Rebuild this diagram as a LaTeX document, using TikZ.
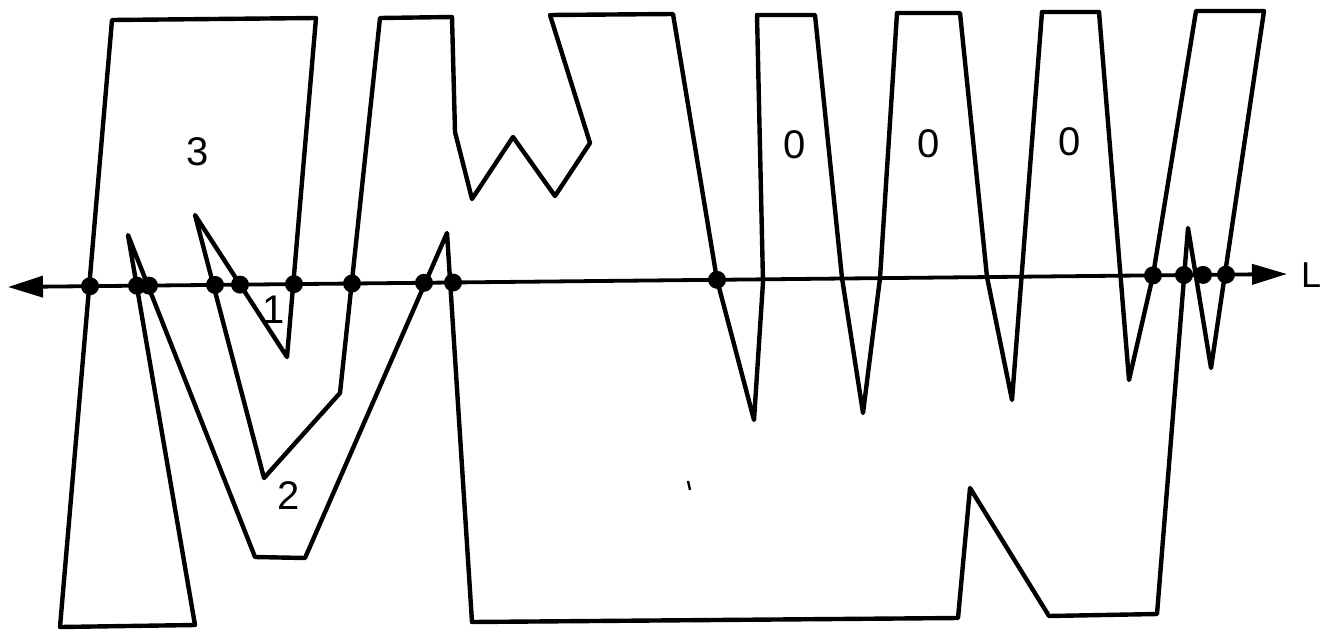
\documentclass[tikz,border=0pt]{standalone}
\usepackage{fontspec}
\setmainfont{Liberation Sans}
\usetikzlibrary{arrows.meta}
\begin{document}
\begin{tikzpicture}[x=1pt,y=-1pt,
  curve/.style={draw, line width=4.4pt, line join=round},
  axis/.style={line width=3.8pt, {Triangle[length=35pt,width=21pt]}-{Triangle[length=35pt,width=20pt]}},
  crossdot/.style={circle, fill, inner sep=0pt, minimum size=18pt},
  lbl/.style={font=\fontsize{40}{44}\selectfont, inner sep=0pt}]
\useasboundingbox (0,0) rectangle (1329,632);
% the line L
\coordinate (Lw) at (8,287);
\coordinate (Le) at (1287,274);
\draw[axis] (Lw) -- (Le);
\node[font=\fontsize{36}{40}\selectfont, inner sep=0pt] (Ltext) at (1311,275) {L};
% the closed curve
\draw[curve] (112,20) -- (60,627) -- (195,625) -- (128,235) -- (255,557) -- (305,558)
  -- (447,233) -- (472,622) -- (958,618) -- (970,488) -- (1049,616) -- (1157,614)
  -- (1188,228) -- (1211,368) -- (1264,11) -- (1196,11) -- (1153,275.4) -- (1129,380)
  -- (1099,12) -- (1042,12) -- (1012,400) -- (987,277) -- (960,13) -- (897,13)
  -- (880,278) -- (863,413) -- (842,278) -- (815,15) -- (757,15) -- (763,282)
  -- (754,420) -- (717,279.8) -- (673,14) -- (550,15) -- (590,143) -- (555,196)
  -- (513,137) -- (472,199) -- (455,132) -- (452,17) -- (380,18) -- (340,393)
  -- (264,478) -- (195,215) -- (287,357) -- (316,18) -- cycle;
% intersection dots
\foreach \px/\py [count=\i] in {90/286.2,137/285.7,149/285.6,215/284.9,240/284.6,294/284.1,352/283.5,424/282.8,453/282.5,717/279.8,1153/275.4,1184/275.0,1203/274.9,1226/274.6}
  \node[crossdot] (d\i) at (\px,\py) {};
% labels
\node[lbl] (n3) at (198,152) {3};
\node[lbl] (n1) at (274,310) {1};
\node[lbl] (n2) at (289,496) {2};
\node[lbl] (z1) at (795,145) {0};
\node[lbl] (z2) at (929,144) {0};
\node[lbl] (z3) at (1070,142) {0};
% stray mark
\draw[line width=2.4pt] (688,481) -- (690,490);
\end{tikzpicture}
\end{document}
